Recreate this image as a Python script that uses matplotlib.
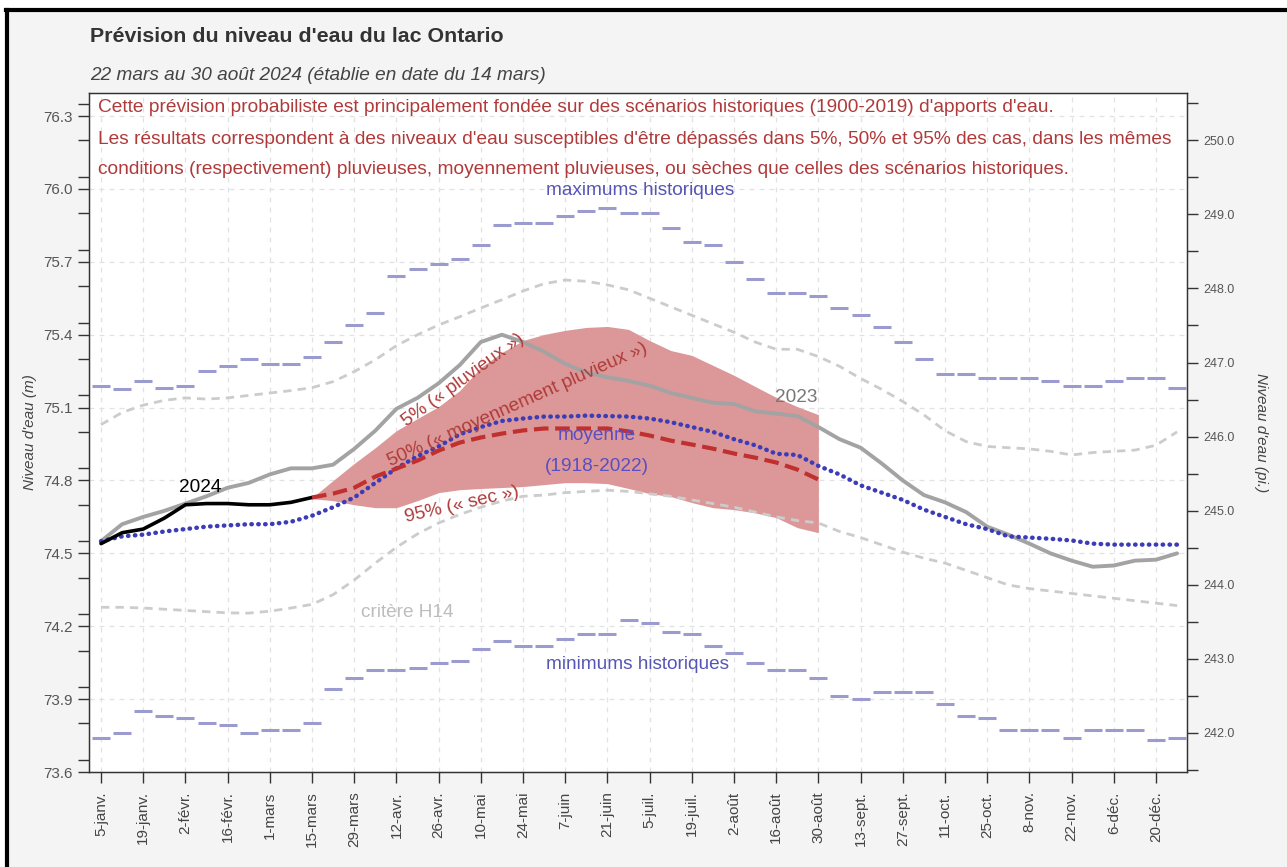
import matplotlib
matplotlib.use("Agg")
import matplotlib.pyplot as plt
from matplotlib.ticker import FixedLocator, MultipleLocator, FormatStrFormatter
from matplotlib.lines import Line2D
from matplotlib.patches import Rectangle

plt.rcParams['font.family'] = ['Liberation Sans', 'DejaVu Sans']

# ---------------- data (weekly, 5-janv = week 0) ----------------
tick_labels = ["5-janv.", "19-janv.", "2-févr.", "16-févr.", "1-mars", "15-mars", "29-mars",
               "12-avr.", "26-avr.", "10-mai", "24-mai", "7-juin", "21-juin", "5-juil.",
               "19-juil.", "2-août", "16-août", "30-août", "13-sept.", "27-sept.", "11-oct.",
               "25-oct.", "8-nov.", "22-nov.", "6-déc.", "20-déc."]
weeks = list(range(52))

max_hist = [75.187, 75.175, 75.21, 75.18, 75.19, 75.25, 75.27, 75.30, 75.28, 75.28, 75.31, 75.37,
            75.44, 75.49, 75.64, 75.67, 75.69, 75.71, 75.77, 75.85, 75.86, 75.86, 75.89, 75.91,
            75.92, 75.90, 75.90, 75.84, 75.78, 75.77, 75.70, 75.63, 75.57, 75.57, 75.56, 75.51,
            75.48, 75.43, 75.37, 75.30, 75.24, 75.24, 75.22, 75.22, 75.22, 75.21, 75.19, 75.19,
            75.21, 75.22, 75.22, 75.18]
min_hist = [73.742, 73.762, 73.85, 73.831, 73.822, 73.80, 73.792, 73.762, 73.772, 73.772, 73.80,
            73.94, 73.988, 74.019, 74.019, 74.028, 74.049, 74.058, 74.107, 74.138, 74.118, 74.118,
            74.147, 74.168, 74.168, 74.227, 74.215, 74.177, 74.168, 74.118, 74.088, 74.049, 74.019,
            74.019, 73.988, 73.911, 73.90, 73.93, 73.93, 73.93, 73.881, 73.831, 73.822, 73.772,
            73.772, 73.772, 73.742, 73.772, 73.772, 73.772, 73.732, 73.742]
h14_upper = [75.03, 75.08, 75.11, 75.13, 75.14, 75.135, 75.14, 75.15, 75.16, 75.17, 75.182, 75.207,
             75.248, 75.297, 75.355, 75.40, 75.44, 75.474, 75.51, 75.544, 75.58, 75.61, 75.625,
             75.62, 75.605, 75.585, 75.55, 75.515, 75.48, 75.445, 75.41, 75.37, 75.34, 75.34, 75.31,
             75.27, 75.22, 75.175, 75.125, 75.07, 75.005, 74.96, 74.94, 74.935, 74.93, 74.92, 74.905,
             74.915, 74.92, 74.925, 74.945, 75.00]
h14_lower = [74.278, 74.278, 74.275, 74.27, 74.265, 74.26, 74.255, 74.254, 74.262, 74.275, 74.29,
             74.33, 74.39, 74.46, 74.525, 74.58, 74.625, 74.66, 74.69, 74.715, 74.735, 74.74, 74.75,
             74.755, 74.76, 74.755, 74.745, 74.735, 74.72, 74.705, 74.69, 74.67, 74.65, 74.635,
             74.625, 74.59, 74.565, 74.535, 74.505, 74.48, 74.46, 74.43, 74.40, 74.37, 74.355,
             74.345, 74.335, 74.325, 74.315, 74.305, 74.295, 74.285]
mean_hist = [74.55, 74.57, 74.577, 74.59, 74.60, 74.61, 74.615, 74.62, 74.62, 74.63, 74.655, 74.69,
             74.73, 74.79, 74.85, 74.90, 74.94, 74.99, 75.02, 75.045, 75.055, 75.063, 75.063, 75.067,
             75.065, 75.063, 75.055, 75.04, 75.02, 75.00, 74.97, 74.945, 74.91, 74.905, 74.86,
             74.825, 74.78, 74.75, 74.72, 74.68, 74.65, 74.62, 74.60, 74.57, 74.565, 74.56, 74.553,
             74.54, 74.536, 74.536, 74.536, 74.536]
y2023 = [74.55, 74.62, 74.65, 74.675, 74.705, 74.735, 74.77, 74.79, 74.825, 74.85, 74.85, 74.865,
         74.93, 75.005, 75.095, 75.14, 75.20, 75.275, 75.37, 75.40, 75.37, 75.33, 75.28, 75.245,
         75.225, 75.21, 75.19, 75.16, 75.14, 75.12, 75.115, 75.085, 75.075, 75.065, 75.02, 74.97,
         74.935, 74.87, 74.80, 74.74, 74.71, 74.67, 74.61, 74.577, 74.54, 74.50, 74.47, 74.445,
         74.45, 74.47, 74.474, 74.50]
weeks_2024 = list(range(11))
y2024 = [74.54, 74.585, 74.60, 74.645, 74.70, 74.705, 74.705, 74.70, 74.70, 74.71, 74.73]

weeks_fc = list(range(10, 35))
fc_50 = [74.73, 74.746, 74.77, 74.816, 74.849, 74.882, 74.923, 74.956, 74.977, 74.993, 75.006,
         75.014, 75.014, 75.014, 75.014, 75.002, 74.985, 74.964, 74.948, 74.931, 74.911, 74.894,
         74.874, 74.845, 74.804]
fc_5 = [74.729, 74.80, 74.87, 74.935, 75.005, 75.055, 75.104, 75.17, 75.265, 75.327, 75.376,
        75.401, 75.418, 75.43, 75.434, 75.422, 75.376, 75.335, 75.315, 75.274, 75.233, 75.187,
        75.142, 75.104, 75.071]
fc_95 = [74.725, 74.717, 74.70, 74.688, 74.688, 74.717, 74.75, 74.762, 74.767, 74.771, 74.775,
         74.783, 74.791, 74.791, 74.787, 74.767, 74.746, 74.734, 74.709, 74.688, 74.68, 74.667,
         74.647, 74.606, 74.585]

M_TO_FT = 3.28084

# ---------------- figure ----------------
W, H = 1287, 867
fig = plt.figure(figsize=(W / 100, H / 100), dpi=100, facecolor='#f4f4f4')
# white margin strips and black frame (top & left)
fig.patches.append(Rectangle((0, 1 - 8 / H), 1, 8 / H, transform=fig.transFigure,
                             facecolor='white', edgecolor='none', zorder=0))
fig.patches.append(Rectangle((0, 0), 5 / W, 1, transform=fig.transFigure,
                             facecolor='white', edgecolor='none', zorder=0))
fig.lines.append(Line2D([6 / W, 1], [1 - 10 / H, 1 - 10 / H], transform=fig.transFigure,
                        color='black', lw=3))
fig.lines.append(Line2D([7 / W, 7 / W], [0, 1 - 10 / H], transform=fig.transFigure,
                        color='black', lw=3))

l, r, t, b = 89, 1187, 93, 772
ax = fig.add_axes([l / W, 1 - b / H, (r - l) / W, (b - t) / H])
ax.set_facecolor('white')

ax.set_xlim(-0.57, 51.47)
ax.set_ylim(73.6, 76.395)

# grid
ax.set_xticks(range(0, 52, 2))
ax.set_xticklabels(tick_labels, rotation=90, fontsize=11, color='#444444')
ax.yaxis.set_major_locator(FixedLocator([73.6, 73.9, 74.2, 74.5, 74.8, 75.1, 75.4, 75.7, 76.0, 76.3]))
ax.yaxis.set_minor_locator(MultipleLocator(0.15))
ax.yaxis.set_major_formatter(FormatStrFormatter('%.1f'))
ax.grid(True, which='major', color='#e2e2e2', linestyle=(0, (4, 4)), lw=0.9, zorder=0)
ax.set_axisbelow(True)
ax.tick_params(axis='x', length=8, width=1, color='#333333', pad=6)
ax.tick_params(axis='y', which='major', length=8, width=1, color='#333333', labelsize=11,
               labelcolor='#555555')
ax.tick_params(axis='y', which='minor', length=8, width=1, color='#333333')
for s in ax.spines.values():
    s.set_color('#333333')
    s.set_linewidth(1)

# band
ax.fill_between(weeks_fc, fc_95, fc_5, color='#dc9898', lw=0, zorder=2)

# H14 criteria
ax.plot(weeks, h14_upper, color='#cccccc', lw=2, linestyle=(0, (3, 2.2)), zorder=3)
ax.plot(weeks, h14_lower, color='#cccccc', lw=2, linestyle=(0, (3, 2.2)), zorder=3)

# max/min historic
ax.plot(weeks, max_hist, linestyle='none', marker='_', markersize=13, markeredgewidth=2.2,
        color='#9b9bd0', zorder=3)
ax.plot(weeks, min_hist, linestyle='none', marker='_', markersize=13, markeredgewidth=2.2,
        color='#9b9bd0', zorder=3)

# 2023
ax.plot(weeks, y2023, color='#a3a3a3', lw=2.8, zorder=4, solid_capstyle='round')
# mean
ax.plot(weeks, mean_hist, color='#3c3cb8', lw=3.2, linestyle=(0, (0.1, 1.45)),
        dash_capstyle='round', zorder=5)
# 2024
ax.plot(weeks_2024, y2024, color='black', lw=2.6, zorder=6, solid_capstyle='round')
# forecast 50%
ax.plot(weeks_fc, fc_50, color='#c0302e', lw=3, linestyle=(0, (3.5, 1.6)), zorder=7)

# annotations
red = '#b03a3a'
ax.text(25.57, 75.995, "maximums historiques", color='#5555b5', fontsize=13.7,
        ha='center', va='center', zorder=8)
ax.text(25.43, 74.044, "minimums historiques", color='#5555b5', fontsize=13.7,
        ha='center', va='center', zorder=8)
ax.text(14.5, 74.258, "critère H14", color='#bdbdbd', fontsize=13.7, ha='center', va='center', zorder=8)
ax.text(4.69, 74.773, "2024", color='black', fontsize=13.7, ha='center', va='center', zorder=8)
ax.text(32.95, 75.143, "2023", color='#777777', fontsize=13.7, ha='center', va='center', zorder=8)
ax.text(23.48, 74.987, "moyenne", color='#5a4ec0', fontsize=13.7, ha='center', va='center', zorder=8)
ax.text(23.48, 74.859, "(1918-2022)", color='#5a4ec0', fontsize=13.7, ha='center', va='center', zorder=8)
ax.text(17.15, 75.215, "5% (« pluvieux »)", color=red, fontsize=13.7, rotation=36,
        ha='center', va='center', rotation_mode='anchor', zorder=8)
ax.text(19.75, 75.11, "50% (« moyennement pluvieux »)", color=red, fontsize=13.7, rotation=24,
        ha='center', va='center', rotation_mode='anchor', zorder=8)
ax.text(17.1, 74.70, "95% (« sec »)", color=red, fontsize=13.7, rotation=13,
        ha='center', va='center', rotation_mode='anchor', zorder=8)

# note lines (red)
notes = ["Cette prévision probabiliste est principalement fondée sur des scénarios historiques (1900-2019) d'apports d'eau.",
         "Les résultats correspondent à des niveaux d'eau susceptibles d'être dépassés dans 5%, 50% et 95% des cas, dans les mêmes",
         "conditions (respectivement) pluvieuses, moyennement pluvieuses, ou sèches que celles des scénarios historiques."]
for yy, txt in zip([107, 139, 169], notes):
    fig.text(98 / W, 1 - yy / H, txt, color=red, fontsize=13.75, ha='left', va='center', zorder=10)

ax.set_ylabel("Niveau d'eau (m)", fontsize=11, style='italic', color='#444444', labelpad=5)

# right axis (feet)
ax2 = ax.twinx()
ax2.set_ylim(73.6 * M_TO_FT, 76.395 * M_TO_FT)
ax2.yaxis.set_major_locator(FixedLocator([242, 243, 244, 245, 246, 247, 248, 249, 250]))
ax2.yaxis.set_minor_locator(MultipleLocator(0.5))
ax2.yaxis.set_major_formatter(FormatStrFormatter('%.1f'))
ax2.tick_params(axis='y', which='both', length=8, width=1, color='#333333', labelsize=9,
                labelcolor='#555555')
for s in ax2.spines.values():
    s.set_color('#333333')
ax2.set_ylabel("Niveau d'eau (pi.)", fontsize=11, style='italic', color='#444444',
               rotation=270, labelpad=24)

# title & subtitle
fig.text(90 / W, 1 - 37 / H, "Prévision du niveau d'eau du lac Ontario", fontsize=15.4,
         fontweight='bold', color='#333333', ha='left', va='center')
fig.text(90 / W, 1 - 75 / H, "22 mars au 30 août 2024 (établie en date du 14 mars)", fontsize=13.7,
         style='italic', color='#444444', ha='left', va='center')

fig.savefig("out.png", dpi=100, facecolor=fig.get_facecolor())
